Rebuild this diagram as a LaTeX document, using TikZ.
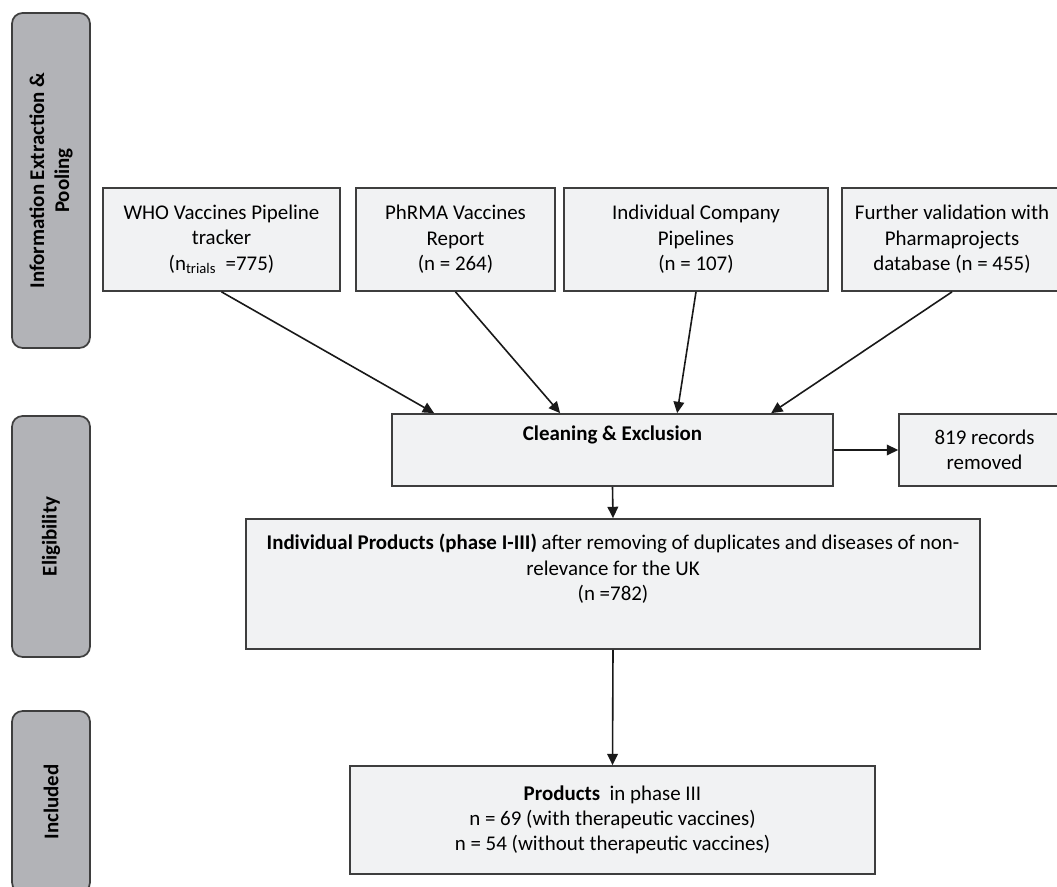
\documentclass[tikz,border=0pt]{standalone}
\usepackage{fontspec}
\setmainfont{Carlito}
\usetikzlibrary{arrows.meta,calc}
\definecolor{sidegray}{RGB}{178,179,183}
\definecolor{boxgray}{RGB}{241,242,243}
\definecolor{linegray}{RGB}{62,62,62}
\tikzset{side/.style={draw=linegray, line width=1.3pt, fill=sidegray, rounded corners=8pt, rotate=90, minimum height=58.5pt, inner sep=0pt, align=center, font=\fontsize{15.7}{18.75}\selectfont\bfseries}}
\tikzset{stage/.style={draw=linegray, line width=1.3pt, fill=boxgray, inner sep=0pt, align=center, font=\fontsize{15.7}{19}\selectfont}}
\tikzset{flow/.style={line width=1.2pt, color=black!90, -{Triangle[length=8.5pt,width=8pt]}}}

\begin{document}
\begin{tikzpicture}[x=0.75pt, y=-0.75pt]
        \useasboundingbox (0,0) rectangle (1057,887);

        % phases on the left
        \node[side, minimum width=251.25pt] (Sinfo) at (51, 180.5) {Information Extraction \&\\Pooling};
        \node[side, minimum width=180.75pt] (Selig) at (51, 536.5) {Eligibility};
        \node[side, minimum width=136.5pt] (Sincl) at (51, 802) {Included};

        % sources
        \node[stage, minimum width=177.75pt, minimum height=77.25pt] (Nwho) at (221.5, 239.5)
        {WHO Vaccines Pipeline\\tracker\\(n\textsubscript{trials}~ =775)};
        \node[stage, minimum width=149.25pt, minimum height=77.25pt] (Nphrma) at (455.5, 239.5)
        {PhRMA Vaccines\\Report\\(n = 264)};
        \node[stage, minimum width=198pt, minimum height=77.25pt] (Ncomp) at (696, 239.5)
        {Individual Company\\Pipelines\\(n = 107)};
        \node[stage, minimum width=165pt, minimum height=77.25pt] (Nfurther) at (952, 239.5)
        {Further validation with\\Pharmaprojects\\database (n = 455)};

        % screening
        \node[stage, minimum width=330.75pt, minimum height=54pt] (Nclean) at (612.5, 450)
        {\textbf{Cleaning \& Exclusion}\\\strut};
        \node[stage, minimum width=128.25pt, minimum height=54pt] (Nremoved) at (984.5, 450)
        {819 records\\removed};
        \node[stage, minimum width=550.5pt, minimum height=97.5pt] (Nindiv) at (613, 584)
        {\textbf{Individual Products (phase I-III)} after removing of duplicates and diseases of non-\\relevance for the UK\\(n =782)\\\strut};
        \node[stage, minimum width=393.75pt, minimum height=81pt] (Nprod) at (612.5, 820)
        {\textbf{Products}~ in phase III\\n = 69 (with therapeutic vaccines)\\n = 54 (without therapeutic vaccines)};

        \draw [flow] (Nwho.south) -- ($(Nclean.north west)+(43,0)$);
        \draw [flow] (Nphrma.south) -- ($(Nclean.north west)+(169,0)$);
        \draw [flow] (Ncomp.south) -- ($(Nclean.north west)+(286,0)$);
        \draw [flow] (Nfurther.south) -- ($(Nclean.north west)+(380,0)$);
        \draw [flow] (Nclean.east) -- (Nremoved.west);
        \draw [flow] (Nclean.south) -- (Nindiv.north);
        \draw [flow] (Nindiv.south) -- (Nprod.north);
\end{tikzpicture}
\end{document}
